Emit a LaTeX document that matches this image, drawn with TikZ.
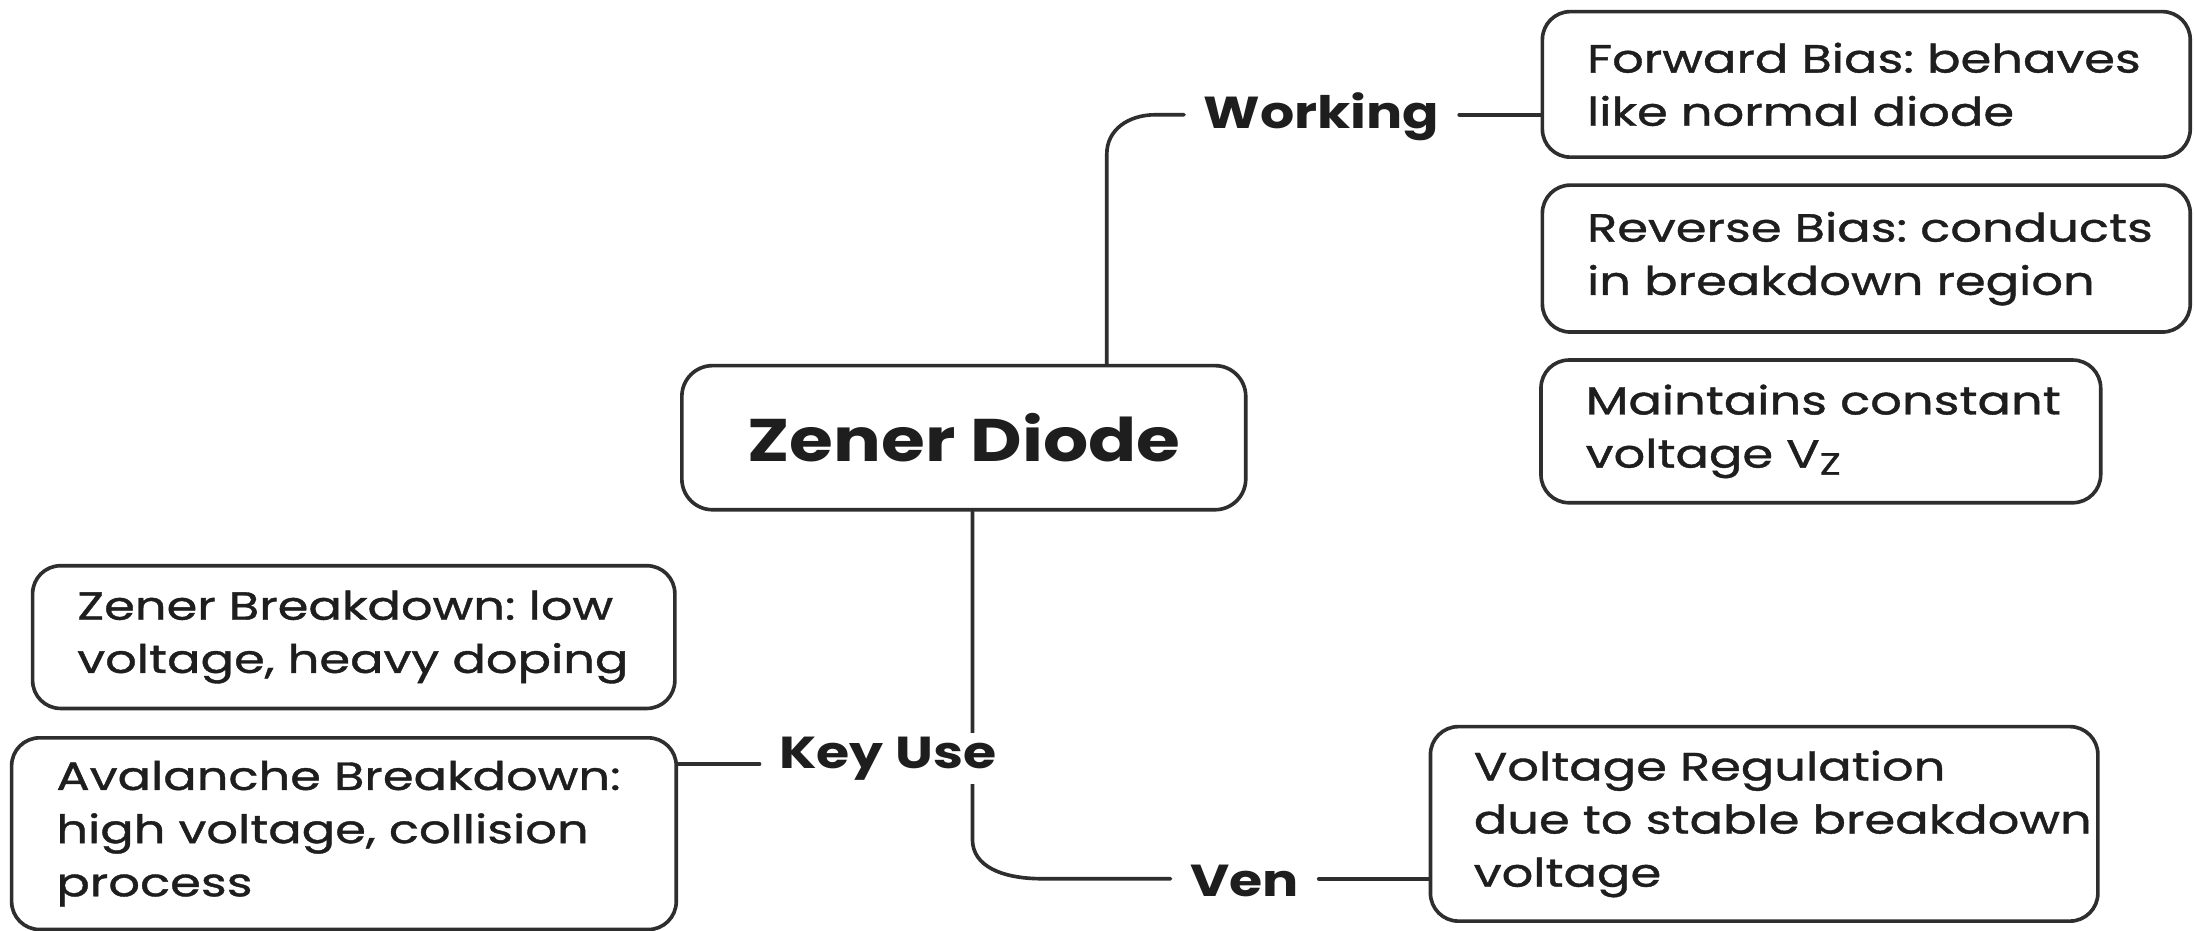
\documentclass[tikz,border=0pt]{standalone}
\usepackage{fontspec}
\setmainfont{Poppins}[FakeStretch=1.26, FakeBold=1.0]
\newfontfamily\labfont{Poppins}[FakeStretch=1.2]
\newfontfamily\titlefont{Poppins}[FakeStretch=1.18]
\definecolor{lc}{HTML}{2E2E2E}
\definecolor{tc}{HTML}{1E1E1E}
\newcommand\bodyfnt{\frenchspacing\fontsize{28.1}{38}\selectfont}
\newcommand\labfnt{\labfont\bfseries\fontsize{32}{36}\selectfont}
\newcommand\titlefnt{\titlefont\bfseries\fontsize{43}{48}\selectfont}
\tikzset{
  box/.style={draw=lc, line width=2.6pt, rounded corners=20pt, fill=white,
    anchor=north west, align=left, inner xsep=32pt, inner ysep=0pt,
    font=\bodyfnt, text=tc},
  titlebox/.style={draw=lc, line width=2.6pt, rounded corners=22pt, fill=white,
    anchor=north west, align=center, inner sep=0pt, font=\titlefnt, text=tc},
  lab/.style={anchor=base, font=\labfnt, text=tc, inner xsep=14pt, inner ysep=3pt},
  conn/.style={draw=lc, line width=2.6pt, line cap=round}
}
\begin{document}
\begin{tikzpicture}[x=1pt, y=-1pt]
\useasboundingbox[fill=white] (0,0) rectangle (1568,665);

% boxes
\node[titlebox, minimum width=403pt, minimum height=103pt] (zd) at (486,260) {Zener Diode};

\node[box, minimum width=463pt, minimum height=104pt, text width=399pt] (fb) at (1101,7)
  {\mbox{Forward Bias: behaves}\\\mbox{like normal diode}};
\node[box, minimum width=463pt, minimum height=105pt, text width=399pt] (rb) at (1101,131)
  {\mbox{Reverse Bias: conducts}\\\mbox{in breakdown region}};
\node[box, minimum width=400pt, minimum height=102pt, text width=336pt] (mc) at (1100,256)
  {\mbox{Maintains constant}\\\mbox{voltage V\raisebox{-5pt}{\fontsize{22}{22}\selectfont Z}}};
\node[box, minimum width=459pt, minimum height=102pt, text width=395pt] (zb) at (22,403)
  {\mbox{Zener Breakdown: low}\\\mbox{voltage, heavy doping}};
\node[box, minimum width=475pt, minimum height=137pt, text width=411pt] (av) at (7,526)
  {\mbox{Avalanche Breakdown:}\\\mbox{high voltage, collision}\\\mbox{process}};
\node[box, minimum width=477pt, minimum height=139pt, text width=415pt, inner xsep=31pt] (vr) at (1021,518)
  {\mbox{Voltage Regulation}\\\mbox{due to stable breakdown}\\\mbox{voltage}};

% labels
\node[lab] (wk) at (944.5,92) {Working};
\node[lab] (vn) at (889.5,641) {Ven};

% coordinates for connector routing
\coordinate (wy) at (0,82);
\coordinate (wv) at (791,110);
\coordinate (wc) at (826,82);
\coordinate (kx) at (695,0);
\coordinate (kv) at (695,600);
\coordinate (kc) at (745,628);
\coordinate (vy) at (0,628);
\coordinate (ky) at (0,546);

% connectors
\draw[conn] (zd.north -| wv) -- (wv) .. controls (791,93) and (806,82) .. (wc) -- (wk.west |- wy);
\draw[conn] (wk.east |- wy) -- (fb.west |- wy);
\draw[conn] (zd.south -| kx) -- (kv) .. controls (695,619) and (716,628) .. (kc) -- (vn.west |- vy);
\draw[conn] (vn.east |- vy) -- (vr.west |- vy);

% Key Use label covers the vertical connector
\node[lab, fill=white] (ku) at (634.5,549) {Key Use};
\draw[conn] (ku.west |- ky) -- (av.east |- ky);
\end{tikzpicture}
\end{document}
